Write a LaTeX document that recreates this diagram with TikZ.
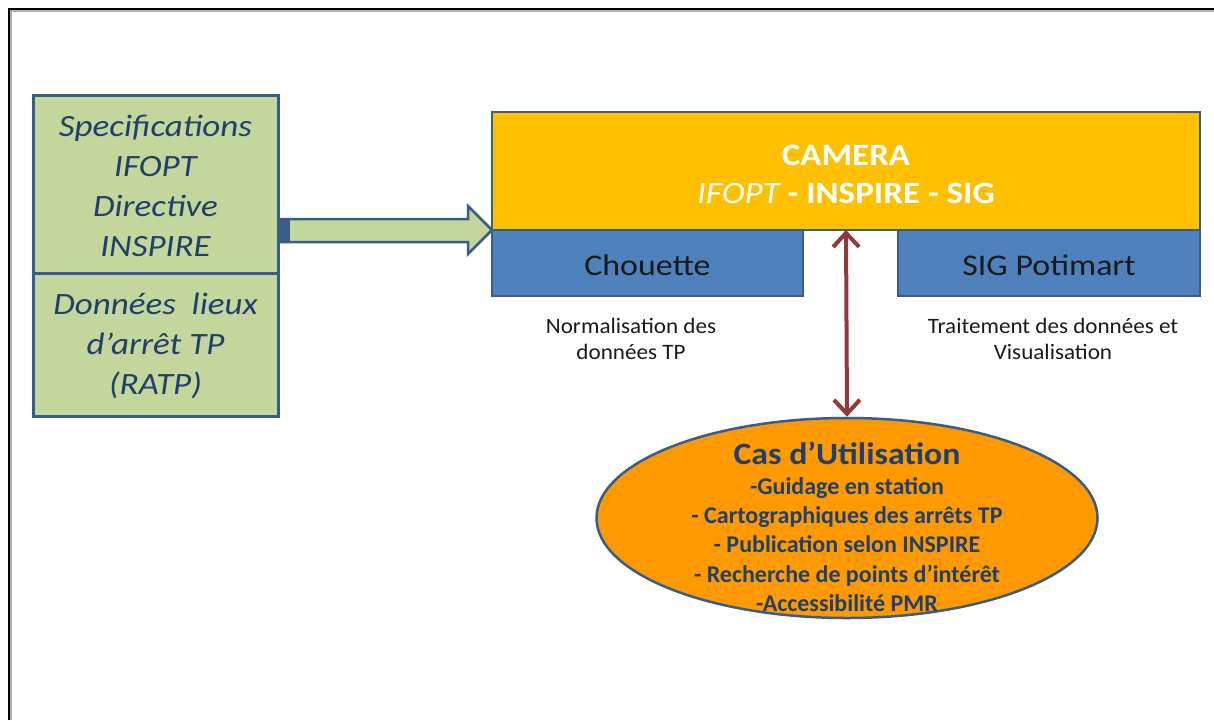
\documentclass[tikz,border=0pt]{standalone}
\usepackage{fontspec}
\setmainfont{Carlito}
\newfontfamily\widefont{Carlito}[Ligatures=TeX,FakeStretch=1.13]
\newfontfamily\midfont{Carlito}[Ligatures=TeX,FakeStretch=1.09]
\newfontfamily\smallwide{Carlito}[Ligatures=TeX,FakeStretch=1.05]
\usetikzlibrary{arrows.meta,shapes.geometric}
\definecolor{gfill}{HTML}{C3D69B}
\definecolor{bborder}{HTML}{385D8A}
\definecolor{bfill}{HTML}{4F81BD}
\definecolor{camfill}{HTML}{FFC000}
\definecolor{orfill}{HTML}{FF9900}
\definecolor{dkblue}{HTML}{1F3F6D}
\definecolor{dkred}{HTML}{953735}
\definecolor{txtdark}{HTML}{1A1A1A}
\tikzset{
  greenbox/.style={draw=bborder, line width=3pt, fill=gfill},
  bluebox/.style={draw=bborder, line width=2pt, fill=bfill},
  greentext/.style={text=dkblue, align=center, font=\widefont\fontsize{31}{40}\selectfont\itshape},
  bluetext/.style={text=txtdark, font=\widefont\fontsize{30}{36}\selectfont},
  smalltext/.style={text=txtdark, align=center, font=\smallwide\fontsize{22}{26}\selectfont},
}
\begin{document}
\begin{tikzpicture}[x=1pt,y=-1pt]
\useasboundingbox (0,0) rectangle (1214,720);
\fill[white] (0,0) rectangle (1214,720);
% frame
\draw[gray!60, line width=1.5pt] (11,720) -- (11,11) -- (1214,11);
\draw[black, line width=2.2pt] (9,720) -- (9,9) -- (1214,9);

% green boxes
\draw[greenbox] (33,95) rectangle (278,273);
\draw[greenbox] (33,273) rectangle (278,416);
\node[greentext] (spec) at (155.5,186) {Specifications\\IFOPT\\Directive\\INSPIRE};
\node[greentext] (data) at (155.5,346) {Données\ \ lieux\\d’arrêt TP\\(RATP)};

% camera
\draw[draw=bborder, line width=2pt, fill=camfill] (492,112) rectangle (1200,230);
\node[text=white, align=center, font=\widefont\fontsize{31}{38}\selectfont\bfseries] (cam) at (846,174)
  {CAMERA\\{\mdseries\itshape IFOPT} - INSPIRE - SIG};
\coordinate (camS) at (846,230);

% blue boxes
\draw[bluebox] (492,230) rectangle (803,296);
\draw[bluebox] (898,230) rectangle (1200,296);
\node[bluetext] (chou) at (647.5,265) {Chouette};
\node[bluetext] (sig) at (1049,265) {SIG Potimart};

% labels
\node[smalltext] (norm) at (631,339) {Normalisation des\\données TP};
\node[smalltext] (trait) at (1053,339) {Traitement des données et\\Visualisation};

% block arrow
\draw[draw=bborder, line width=2.5pt, fill=gfill, line join=miter]
  (279,219) -- (468,219) -- (468,206) -- (492,230) -- (468,254) -- (468,242) -- (279,242) -- cycle;
\fill[bborder] (279,219) rectangle (290,242);

% ellipse
\node[ellipse, draw=bborder, line width=2.5pt, fill=orfill, minimum width=501pt, minimum height=200pt, inner sep=0pt] (ell) at (847,518) {};
\node[text=dkblue, align=center, font=\bfseries\fontsize{24}{29.3}\selectfont] (uses) at (847,527)
  {{\midfont\bfseries\fontsize{31}{34}\selectfont Cas d’Utilisation}\\-Guidage en station\\- Cartographiques des arrêts TP\\- Publication selon INSPIRE\\- Recherche de points d’intérêt\\-Accessibilité PMR};

% double arrow
\draw[dkred, line width=4pt, {Straight Barb[length=14pt,width=26pt,line width=4pt]}-{Straight Barb[length=14pt,width=26pt,line width=4pt]}]
  (ell.north) -- (camS);
\end{tikzpicture}
\end{document}
